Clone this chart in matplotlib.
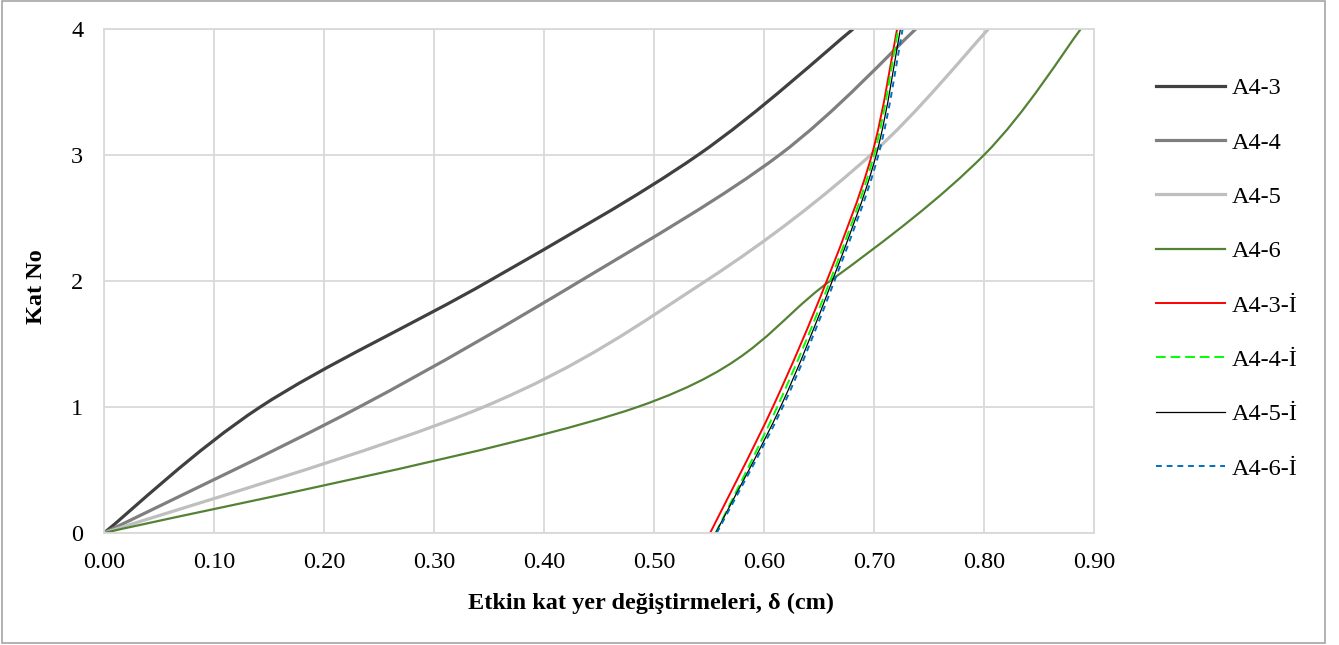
import matplotlib
matplotlib.use("Agg")
import matplotlib.pyplot as plt
from matplotlib.path import Path
from matplotlib.patches import PathPatch, Rectangle
from matplotlib.lines import Line2D

# story numbers (y) and effective storey displacements (x)
kat = [0, 1, 2, 3, 4]

a4_3 = [0.0, 0.142, 0.350, 0.540, 0.681]
a4_4 = [0.0, 0.232, 0.433, 0.614, 0.738]
a4_5 = [0.0, 0.345, 0.547, 0.697, 0.804]
a4_6 = [0.0, 0.485, 0.660, 0.800, 0.888]
a4_3_i = [0.551, 0.608, 0.657, 0.698, 0.721]
a4_4_i = [0.556, 0.612, 0.660, 0.700, 0.722]
a4_5_i = [0.556, 0.615, 0.662, 0.702, 0.724]
a4_6_i = [0.557, 0.617, 0.664, 0.704, 0.726]

series = [
    ("A4-3", a4_3, "#404040", 2.3, "-"),
    ("A4-4", a4_4, "#7f7f7f", 2.3, "-"),
    ("A4-5", a4_5, "#bfbfbf", 2.3, "-"),
    ("A4-6", a4_6, "#548235", 1.6, "-"),
    ("A4-3-İ", a4_3_i, "#ff0000", 1.4, "-"),
    ("A4-4-İ", a4_4_i, "#00ff00", 1.4, (0, (5, 2.5))),
    ("A4-5-İ", a4_5_i, "#000000", 0.9, "-"),
    ("A4-6-İ", a4_6_i, "#0070c0", 1.4, (0, (3, 2.5))),
]

xticks = [0.0, 0.1, 0.2, 0.3, 0.4, 0.5, 0.6, 0.7, 0.8, 0.9]
yticks = [0, 1, 2, 3, 4]


def smooth_path(xs, ys):
    # Excel-style smoothed line: cubic Bezier through the points
    pts = list(zip(xs, ys))
    n = len(pts)
    verts = [pts[0]]
    codes = [Path.MOVETO]
    for i in range(n - 1):
        p0 = pts[i - 1] if i > 0 else pts[i]
        p1 = pts[i]
        p2 = pts[i + 1]
        p3 = pts[i + 2] if i + 2 < n else pts[i + 1]
        c1 = (p1[0] + (p2[0] - p0[0]) / 6, p1[1] + (p2[1] - p0[1]) / 6)
        c2 = (p2[0] - (p3[0] - p1[0]) / 6, p2[1] - (p3[1] - p1[1]) / 6)
        verts += [c1, c2, p2]
        codes += [Path.CURVE4] * 3
    return Path(verts, codes)


plt.rcParams.update({
    "font.family": ["Liberation Serif", "DejaVu Serif"],
    "font.size": 17.5,
})

fig = plt.figure(figsize=(13.39, 6.45), dpi=100)
ax = fig.add_axes([104 / 1339, 1 - 533 / 645, 990 / 1339, 504 / 645])

handles = []
for label, xs, color, lw, ls in series:
    patch = PathPatch(smooth_path(xs, kat), fill=False, edgecolor=color,
                      linewidth=lw, linestyle=ls, capstyle="butt")
    ax.add_patch(patch)
    handles.append(Line2D([], [], color=color, linewidth=lw, linestyle=ls, label=label))

ax.set_xlim(0, 0.9)
ax.set_ylim(0, 4)
ax.set_xticks(xticks)
ax.set_xticklabels([f"{v:.2f}" for v in xticks])
ax.set_yticks(yticks)
ax.grid(True, color="#d9d9d9", linewidth=1.3)
ax.set_axisbelow(True)
for sp in ax.spines.values():
    sp.set_color("#d9d9d9")
    sp.set_linewidth(1.3)
ax.tick_params(length=0)
ax.tick_params(axis="x", pad=14)
ax.tick_params(axis="y", pad=15)

ax.set_xlabel("Etkin kat yer değiştirmeleri, δ (cm)", fontweight="bold")
ax.xaxis.set_label_coords(0.5525, -0.119)
ax.set_ylabel("Kat No", fontweight="bold")
ax.yaxis.set_label_coords(-0.0576, 0.488)

fig.legend(handles=handles, loc="upper left", bbox_to_anchor=(1144 / 1339, 1 - 65 / 645),
           frameon=False, borderpad=0, handlelength=2.85, handletextpad=0.28,
           labelspacing=1.33, fontsize=17.5)

# chart border
fig.patches.append(Rectangle((2 / 1339, 2 / 645), 1323 / 1339, 642 / 645,
                             transform=fig.transFigure, fill=False,
                             edgecolor="#a6a6a6", linewidth=1.2))

fig.savefig("out.png", dpi=100)
